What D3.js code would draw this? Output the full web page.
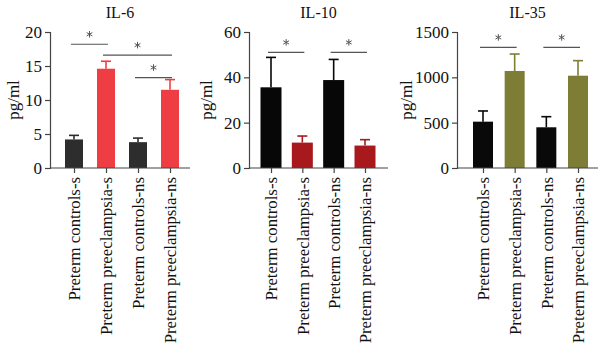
<!DOCTYPE html>
<html>
<head>
<meta charset="utf-8">
<script src="https://cdn.jsdelivr.net/npm/d3@7"></script>
<style>
  html, body { margin: 0; padding: 0; background: #fff; }
  svg { display: block; font-family: "Liberation Serif", "DejaVu Serif", serif; }
</style>
</head>
<body>
<svg id="chart" width="600" height="354"></svg>
<script>
// groups on the x axis (same in all three panels)
const groups = ['Preterm controls-s', 'Preterm preeclampsia-s', 'Preterm controls-ns', 'Preterm preeclampsia-ns'];

// panel titles and y ticks
const titles = ['IL-6', 'IL-10', 'IL-35'];
const yMax = [20, 60, 1500];
const yTicks = [[0, 5, 10, 15, 20], [0, 20, 40, 60], [0, 500, 1000, 1500]];

// mean values and upper error (mean + SD)
const il6Mean = [4.2, 14.6, 3.8, 11.5];
const il6Top = [4.8, 15.7, 4.4, 13.0];
const il10Mean = [35.6, 11.2, 38.8, 9.9];
const il10Top = [48.8, 14.1, 47.9, 12.5];
const il35Mean = [511, 1070, 449, 1018];
const il35Top = [629, 1257, 566, 1184];

// significance brackets: [from group, to group, level in data units]
const il6Sig = [[0, 1, 18.2], [1, 3, 16.6], [2, 3, 13.3]];
const il10Sig = [[0, 1, 51], [2, 3, 51]];
const il35Sig = [[0, 1, 1330], [2, 3, 1330]];

const panels = [
  { title: titles[0], max: yMax[0], ticks: yTicks[0], mean: il6Mean, top: il6Top, sig: il6Sig,
    colors: ['#2d2d2d', '#ef3e43', '#2d2d2d', '#ef3e43'],
    x0: 50, x1: 190, padL: 24, padR: 20, bw: 18, labX: 13 },
  { title: titles[1], max: yMax[1], ticks: yTicks[1], mean: il10Mean, top: il10Top, sig: il10Sig,
    colors: ['#070707', '#a8191e', '#070707', '#a8191e'],
    x0: 249, x1: 388, padL: 22, padR: 23, bw: 21, labX: 206 },
  { title: titles[2], max: yMax[2], ticks: yTicks[2], mean: il35Mean, top: il35Top, sig: il35Sig,
    colors: ['#090909', '#7d7d35', '#090909', '#7d7d35'],
    x0: 457, x1: 598, padL: 26, padR: 20, bw: 20, labX: 406 }
];

const svg = d3.select('#chart');
const yTop = 32, yBot = 168;
const axisCol = '#444';
const star = d3.symbol().type(d3.symbolAsterisk).size(30);

panels.forEach(p => {
  const g = svg.append('g');
  const y = d3.scaleLinear().domain([0, p.max]).range([yBot, yTop]);
  const x = d3.scalePoint().domain(groups).range([p.x0 + p.padL, p.x1 - p.padR]);

  // title
  g.append('text').attr('x', (p.x0 + p.x1) / 2).attr('y', 18)
    .attr('text-anchor', 'middle').attr('font-size', 16).attr('fill', '#111').text(p.title);

  // y axis
  const ya = g.append('g').attr('transform', `translate(${p.x0},0)`)
    .call(d3.axisLeft(y).tickValues(p.ticks).tickSize(5).tickPadding(3).tickFormat(d3.format('d')));
  ya.select('.domain').attr('stroke', axisCol).attr('stroke-width', 1.2);
  ya.selectAll('.tick line').attr('stroke', axisCol).attr('stroke-width', 1.2);
  ya.selectAll('.tick text').attr('font-family', '"Liberation Serif", serif')
    .attr('font-size', 17).attr('fill', '#111');

  // y label
  g.append('text').attr('transform', `translate(${p.labX},${(yTop + yBot) / 2}) rotate(-90)`)
    .attr('text-anchor', 'middle').attr('dy', '0.35em').attr('font-size', 17).attr('fill', '#111').text('pg/ml');

  // bars
  g.selectAll('rect.bar').data(groups).join('rect').attr('class', 'bar')
    .attr('x', d => x(d) - p.bw / 2).attr('width', p.bw)
    .attr('y', (d, i) => y(p.mean[i])).attr('height', (d, i) => yBot - y(p.mean[i]))
    .attr('fill', (d, i) => p.colors[i]);

  // error bars (upper only)
  const eb = g.selectAll('g.err').data(groups).join('g').attr('class', 'err');
  eb.append('line').attr('x1', d => x(d)).attr('x2', d => x(d))
    .attr('y1', (d, i) => y(p.mean[i])).attr('y2', (d, i) => y(p.top[i]))
    .attr('stroke', (d, i) => p.colors[i]).attr('stroke-width', 1.6);
  eb.append('line').attr('x1', d => x(d) - 5).attr('x2', d => x(d) + 5)
    .attr('y1', (d, i) => y(p.top[i])).attr('y2', (d, i) => y(p.top[i]))
    .attr('stroke', (d, i) => p.colors[i]).attr('stroke-width', 1.6);

  // x axis
  const xa = g.append('g').attr('transform', `translate(0,${yBot})`)
    .call(d3.axisBottom(x).tickSize(5).tickPadding(7));
  xa.select('.domain').attr('d', `M${p.x0},0H${p.x1}`).attr('stroke', axisCol).attr('stroke-width', 1.2);
  xa.selectAll('.tick line').attr('stroke', axisCol).attr('stroke-width', 1.2);
  xa.selectAll('.tick text').attr('font-family', '"Liberation Serif", serif').attr('font-size', 16.8)
    .attr('fill', '#111').attr('text-anchor', 'end')
    .attr('transform', 'rotate(-90)').attr('x', -9).attr('y', 0).attr('dy', '0.35em');

  // significance brackets
  p.sig.forEach(([a, b, lv]) => {
    const xa0 = x(groups[a]) - 3, xb0 = x(groups[b]) + 2;
    g.append('line').attr('x1', xa0).attr('x2', xb0).attr('y1', y(lv)).attr('y2', y(lv))
      .attr('stroke', '#555').attr('stroke-width', 1.2);
    g.append('path').attr('d', star)
      .attr('transform', `translate(${(xa0 + xb0) / 2},${y(lv) - 10})`)
      .attr('fill', 'none').attr('stroke', '#555').attr('stroke-width', 1);
  });
});
</script>
</body>
</html>
